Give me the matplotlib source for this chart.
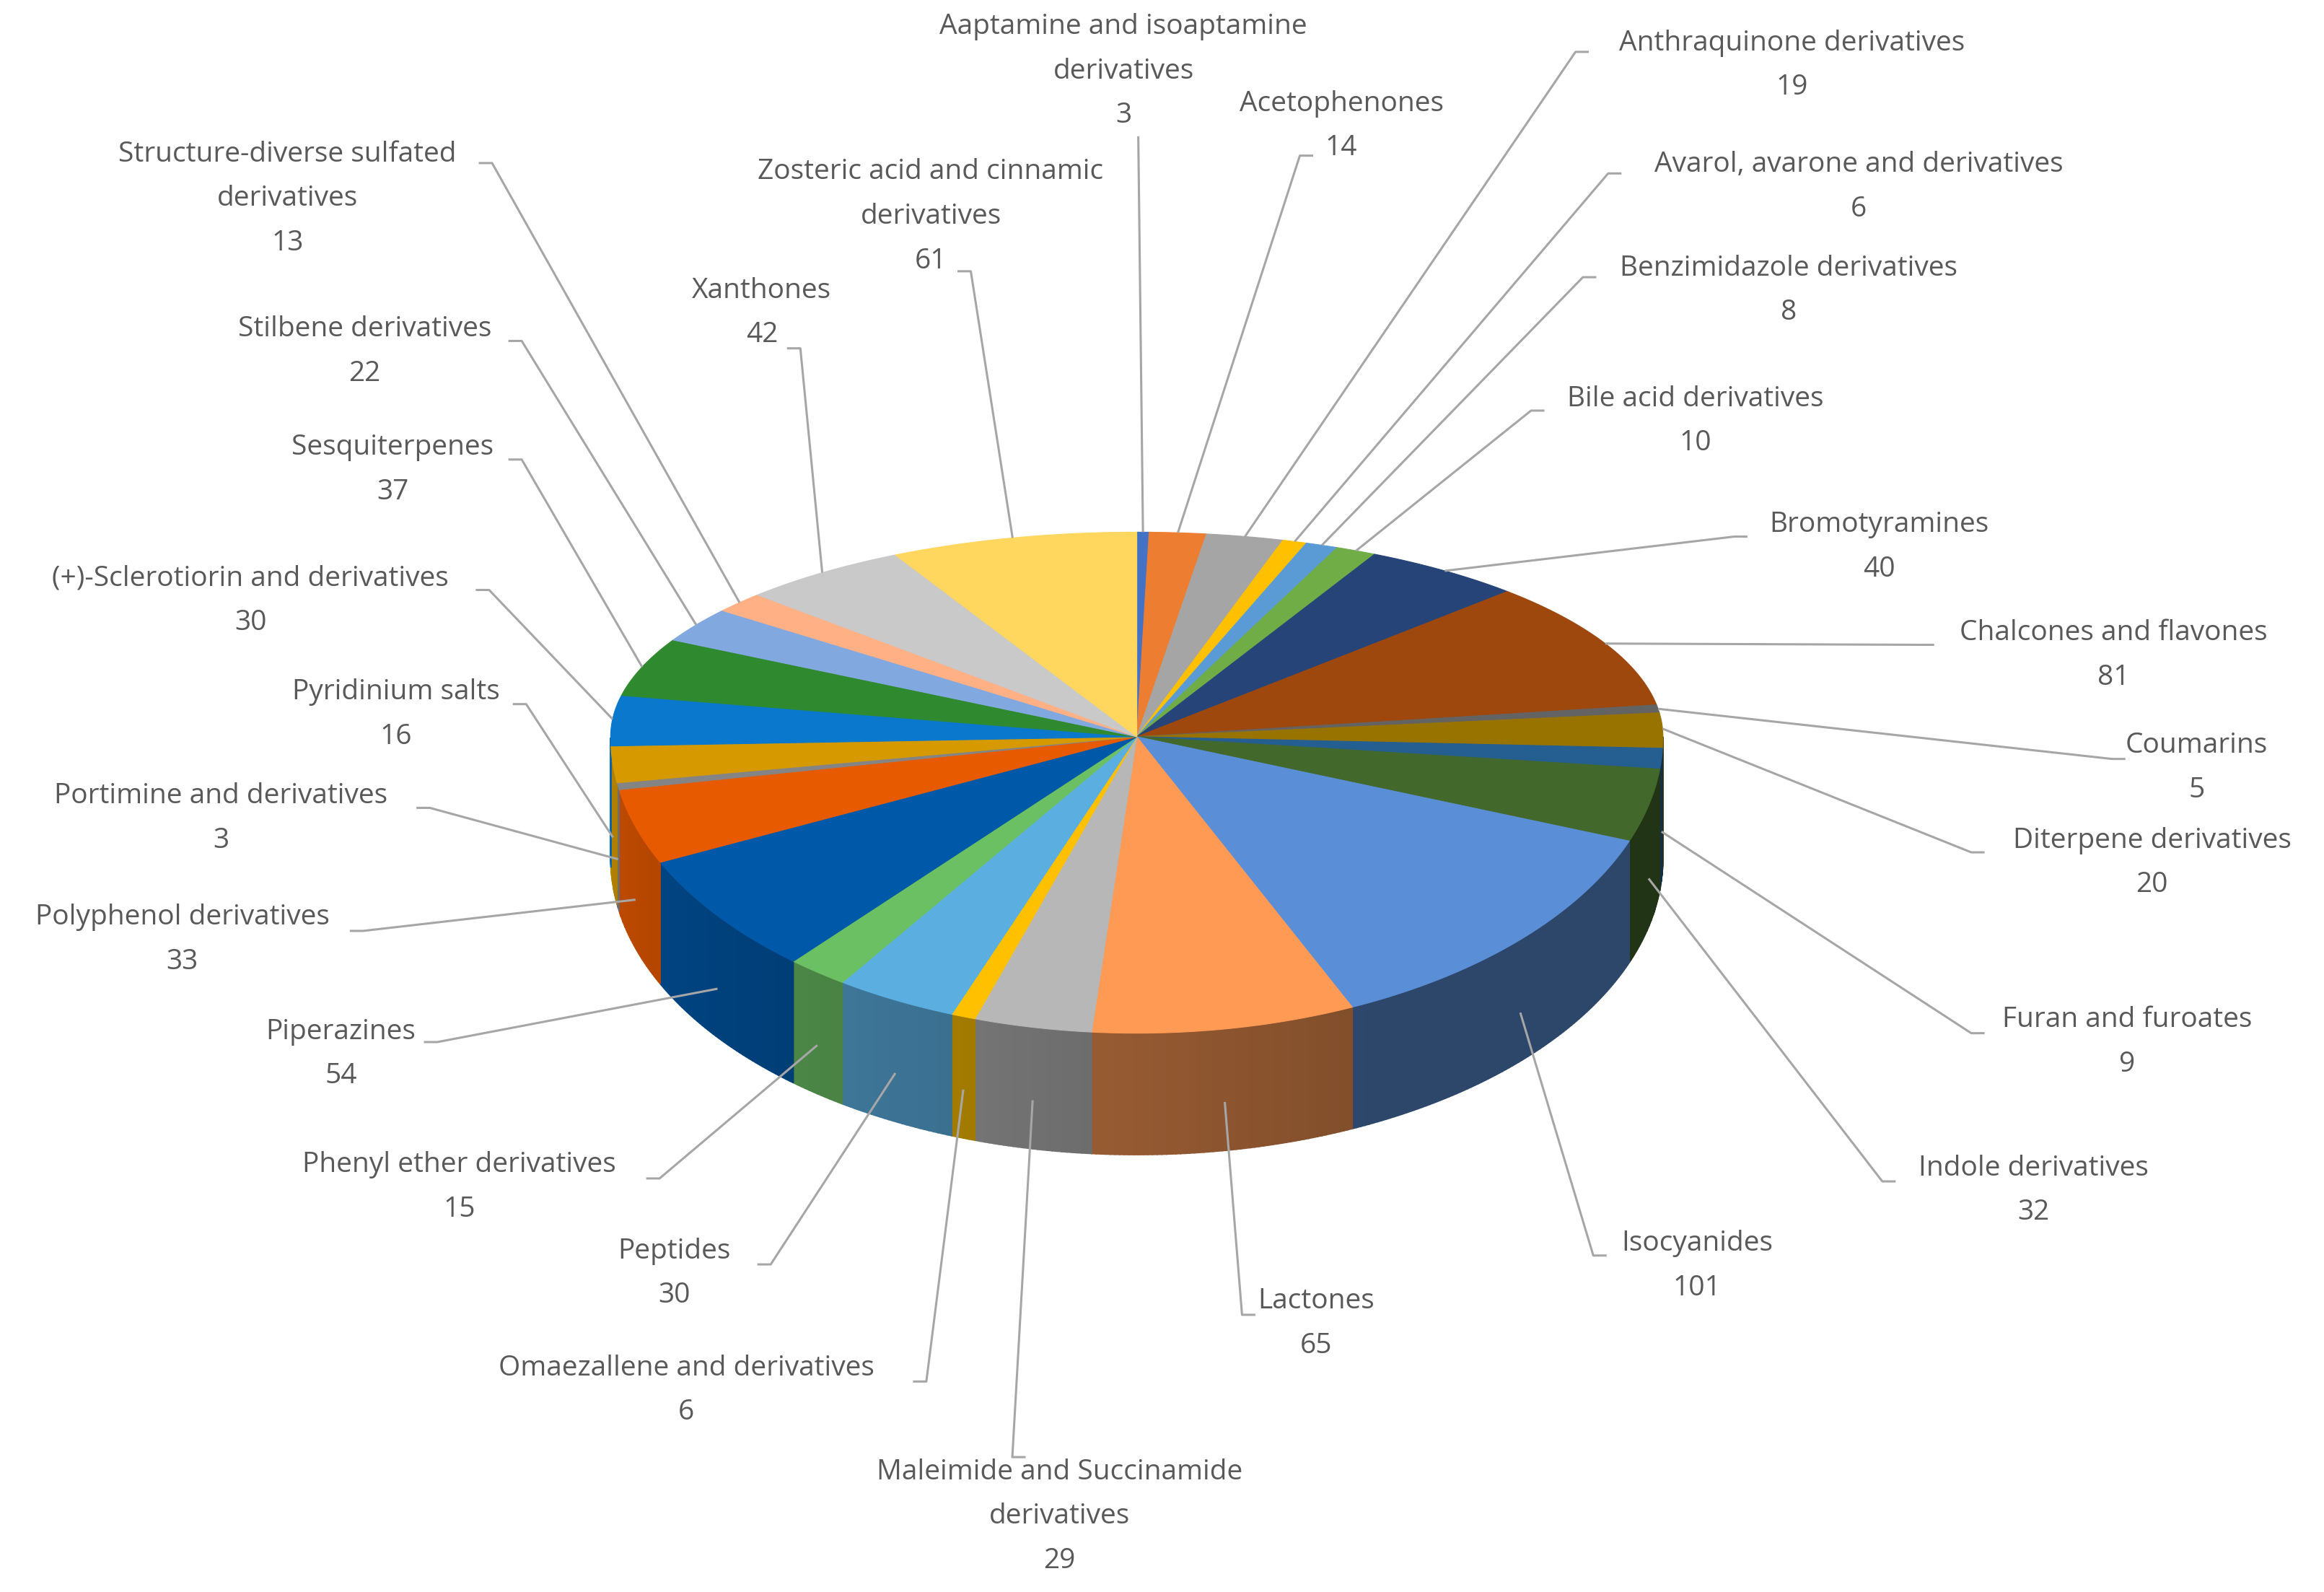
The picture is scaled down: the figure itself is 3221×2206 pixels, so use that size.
import matplotlib
matplotlib.use('Agg')
import matplotlib.pyplot as plt
import numpy as np
from matplotlib.colors import to_rgb

# --- Data (clockwise from 12 o'clock) ---
labels = ["Aaptamine and isoaptamine\nderivatives", "Acetophenones", "Anthraquinone derivatives",
          "Avarol, avarone and derivatives", "Benzimidazole derivatives", "Bile acid derivatives",
          "Bromotyramines", "Chalcones and flavones", "Coumarins", "Diterpene derivatives",
          "Furan and furoates", "Indole derivatives", "Isocyanides", "Lactones",
          "Maleimide and Succinamide\nderivatives", "Omaezallene and derivatives", "Peptides",
          "Phenyl ether derivatives", "Piperazines", "Polyphenol derivatives",
          "Portimine and derivatives", "Pyridinium salts", "(+)-Sclerotiorin and derivatives",
          "Sesquiterpenes", "Stilbene derivatives", "Structure-diverse sulfated\nderivatives",
          "Xanthones", "Zosteric acid and cinnamic\nderivatives"]
values = [3, 14, 19, 6, 8, 10, 40, 81, 5, 20, 9, 32, 101, 65, 29, 6, 30, 15, 54, 33,
          3, 16, 30, 37, 22, 13, 42, 61]
colors = ["#4472C4", "#ED7D31", "#A5A5A5", "#FFC000", "#5B9BD5", "#70AD47", "#264478",
          "#9E480E", "#636363", "#997300", "#255E91", "#43682B", "#5A8ED6", "#FF9A55",
          "#B7B7B7", "#FFC000", "#5BAEE0", "#6CC064", "#0058A8", "#E85A00", "#848484",
          "#D69A00", "#0A78CC", "#2F8A2F", "#82A8E0", "#FFB085", "#C9C9C9", "#FFD75E"]

# --- Layout (reference pixel units, 1568 x 1074 canvas) ---
# text center x, first line center y, elbow point of leader
text_pos = [(758, 18), (905, 70), (1209, 29), (1254, 111), (1207, 181), (1144, 269),
            (1268, 354), (1426, 427), (1482, 503), (1452, 567), (1435, 688), (1372, 788),
            (1145, 839), (888, 878), (715, 993), (463, 923), (455, 844), (310, 786),
            (230, 696), (123, 619), (149, 537), (267, 467), (169, 390), (265, 302),
            (246, 222), (194, 104), (514, 196), (628, 116)]
elbows = [(768, 92), (877, 105), (1063, 35), (1085, 117), (1068, 187), (1033, 277),
          (1170, 362), (1296, 435), (1425, 512), (1330, 575), (1330, 697), (1270, 797),
          (1075, 847), (838, 887), (683, 983), (625, 932), (520, 853), (445, 795),
          (295, 703), (245, 628), (290, 545), (355, 475), (330, 398), (352, 310),
          (352, 230), (332, 110), (540, 235), (655, 183)]

cx, cy, rx, ry_back, ry_front, depth = 767, 497, 355, 138, 200, 82
W, H = 1568, 1074
line_pitch = 30


def rim(theta):
    s = np.sin(theta)
    ry = np.where(s > 0, ry_back, ry_front)
    return cx + rx * np.cos(theta), cy - ry * s


def shade(c, f):
    return tuple(np.clip(np.array(to_rgb(c)) * f, 0, 1))


fig = plt.figure(figsize=(3221 / 200, 2206 / 200), dpi=200)
ax = fig.add_axes([0, 0, 1, 1])
ax.set_xlim(0, W)
ax.set_ylim(H, 0)
ax.axis('off')

total = sum(values)
bounds = np.pi / 2 - 2 * np.pi * np.concatenate([[0], np.cumsum(values)]) / total

# side walls (front half only)
for i, c in enumerate(colors):
    a0, a1 = bounds[i], bounds[i + 1]  # a0 > a1, clockwise
    angs = np.linspace(a1, a0, max(3, int((a0 - a1) * 180 / np.pi * 2)))
    for j in range(len(angs) - 1):
        t0, t1 = angs[j], angs[j + 1]
        tm = (t0 + t1) / 2
        if np.sin(tm) >= 0:
            continue
        x0, y0 = rim(t0)
        x1, y1 = rim(t1)
        deg = np.degrees(tm) % 360  # 180..360
        f = max(0.5, 0.85 - 0.45 * (deg - 180) / 150)
        ax.fill([x0, x1, x1, x0], [y0, y1, y1 + depth, y0 + depth],
                color=shade(c, f), lw=0.6, ec=shade(c, f), zorder=1)

# top face
for i, c in enumerate(colors):
    a0, a1 = bounds[i], bounds[i + 1]
    angs = np.linspace(a0, a1, max(3, int((a0 - a1) * 180 / np.pi * 2)))
    xs, ys = rim(angs)
    ax.fill(np.r_[cx, xs], np.r_[cy, ys], color=c, lw=0.4, ec=c, zorder=2)

# labels and leader lines
lc = "#A6A6A6"
for i, lab in enumerate(labels):
    m = (bounds[i] + bounds[i + 1]) / 2
    px, py = rim(m)
    if np.sin(m) < 0:
        py += depth * 0.6
    ex, ey = elbows[i]
    tx, ty = text_pos[i]
    xs, ys = [px, ex], [py, ey]
    if i != 0:
        d = 9 if tx > ex else -9
        xs.append(ex + d)
        ys.append(ey)
    ax.plot(xs, ys, color=lc, lw=1.1, zorder=3, solid_capstyle='butt')
    for k, line in enumerate(lab.split("\n") + [str(values[i])]):
        ax.text(tx, ty + k * line_pitch, line, ha='center', va='center', fontsize=14,
                color="#595959", family='Open Sans', zorder=4)

fig.savefig("out.png", dpi=200)
